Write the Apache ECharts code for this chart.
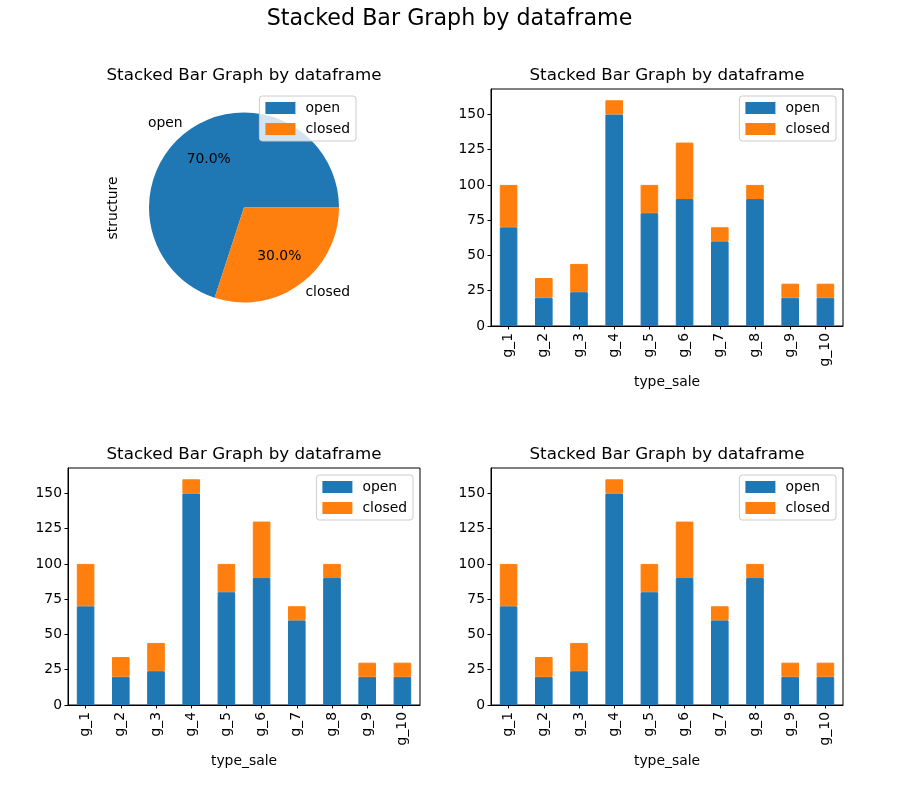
<!DOCTYPE html>
<html><head><meta charset="utf-8">
<script src="https://cdn.jsdelivr.net/npm/echarts@6/dist/echarts.min.js"></script>
<style>html,body{margin:0;padding:0;background:#fff}#c{width:899px;height:785px}</style>
</head><body><div id="c"></div>
<script>
const categories = ['g_1','g_2','g_3','g_4','g_5','g_6','g_7','g_8','g_9','g_10'];
const openVals = [70,20,24,150,80,90,60,90,20,20];
const closedVals = [30,14,20,10,20,40,10,10,10,10];
const pieNames = ['open','closed'];
const pieVals = [70,30];
const yTicks = [0,25,50,75,100,125,150];
const mainTitle = 'Stacked Bar Graph by dataframe';
const subTitle = 'Stacked Bar Graph by dataframe';
const xName = 'type_sale';
const pieYLabel = 'structure';

const C_OPEN = '#1f77b4', C_CLOSED = '#ff7f0e';
const FONT = 'DejaVu Sans';
const FS = 13.9;

const grids = [
  {left:491, top:89, width:352, height:237},
  {left:68, top:468, width:352, height:237},
  {left:491, top:468, width:352, height:237}
];

const xAxes = grids.map((g,i)=>({
  type:'category', gridIndex:i, data:categories,
  axisLine:{show:true, lineStyle:{color:'#000', width:1}},
  axisTick:{show:true, alignWithLabel:true, length:3.5, lineStyle:{color:'#000'}},
  axisLabel:{rotate:90, fontFamily:FONT, fontSize:FS, color:'#000', margin:7},
  name:xName, nameLocation:'middle', nameGap:49,
  nameTextStyle:{fontFamily:FONT, fontSize:FS, color:'#000'}
}));
const yAxes = grids.map((g,i)=>({
  type:'value', gridIndex:i, min:0, max:168, interval:25,
  splitLine:{show:false},
  axisLine:{show:true, lineStyle:{color:'#000', width:1}},
  axisTick:{show:true, length:3.5, lineStyle:{color:'#000'}, customValues:yTicks},
  axisLabel:{fontFamily:FONT, fontSize:FS, color:'#000', margin:6, customValues:yTicks}
}));

const series = [];
grids.forEach((g,i)=>{
  series.push({type:'bar', name:'open', stack:'s'+i, xAxisIndex:i, yAxisIndex:i, data:openVals, barWidth:'50%', itemStyle:{color:C_OPEN, borderColor:C_OPEN, borderWidth:1}, emphasis:{disabled:true}});
  series.push({type:'bar', name:'closed', stack:'s'+i, xAxisIndex:i, yAxisIndex:i, data:closedVals, barWidth:'50%', itemStyle:{color:C_CLOSED, borderColor:C_CLOSED, borderWidth:1}, emphasis:{disabled:true}});
});
const pieData = pieNames.map((n,i)=>({name:n, value:pieVals[i], itemStyle:{color:[C_OPEN,C_CLOSED][i]}}));
series.push({
  type:'pie', center:[244,207.5], radius:[0,95], startAngle:0, clockwise:false,
  data:pieData, silent:true,
  label:{show:true, position:'outside', formatter:'{b}', fontFamily:FONT, fontSize:FS, color:'#000', distanceToLabelLine:0},
  labelLine:{show:false, length:9.5, length2:0}
});
series.push({
  type:'pie', center:[244,207.5], radius:[0,114], startAngle:0, clockwise:false,
  data:pieNames.map((n,i)=>({name:n, value:pieVals[i], itemStyle:{color:'rgba(0,0,0,0)'}})),
  silent:true, z:5,
  label:{show:true, position:'inside', formatter:(p)=>p.percent.toFixed(1)+'%', fontFamily:FONT, fontSize:FS, color:'#000'},
  labelLine:{show:false}
});

function legend(right, top){
  return {
    orient:'vertical', right:right, top:top,
    data:[{name:'open', itemStyle:{color:C_OPEN}},{name:'closed', itemStyle:{color:C_CLOSED}}],
    icon:'rect', itemWidth:28, itemHeight:10, itemGap:5,
    backgroundColor:'rgba(255,255,255,0.8)', borderColor:'#ccc', borderWidth:1, borderRadius:3,
    padding:[4,6,4,6],
    textStyle:{fontFamily:FONT, fontSize:FS, color:'#000', lineHeight:16, padding:[0,0,0,6]},
    selectedMode:false
  };
}

function txt(x,y,text,size,rot){
  return {type:'text', x:x, y:y, rotation:rot||0, z:100,
    style:{text:text, fontFamily:FONT, fontSize:size, fill:'#000', align:'center', verticalAlign:'middle'}};
}

const option = {
  animation:false,
  backgroundColor:'#fff',
  grid: grids.map(g=>Object.assign({show:true, borderColor:'#000', borderWidth:1, backgroundColor:'transparent'}, g)),
  xAxis:xAxes, yAxis:yAxes, series:series,
  legend:[legend(543,96), legend(63,96), legend(486,475), legend(63,475)],
  graphic:[
    txt(449.5,19,mainTitle,22.2),
    txt(244,75.5,subTitle,16.7),
    txt(667,75.5,subTitle,16.7),
    txt(244,454.5,subTitle,16.7),
    txt(667,454.5,subTitle,16.7),
    txt(113,208,pieYLabel,FS,Math.PI/2)
  ]
};
echarts.init(document.getElementById('c')).setOption(option);
</script></body></html>
